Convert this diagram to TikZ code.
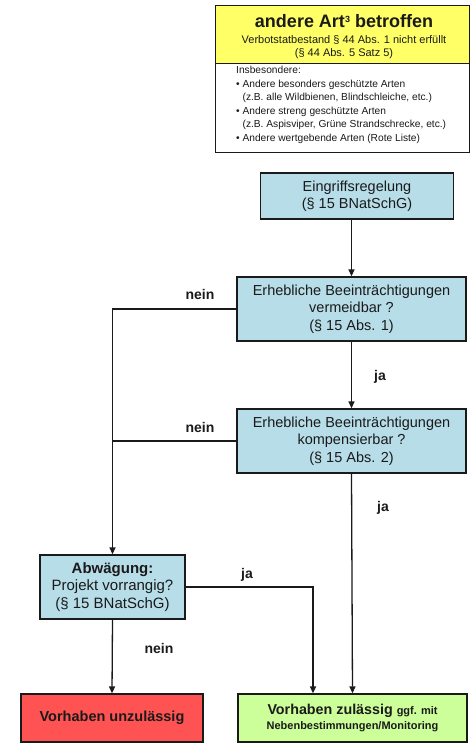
\documentclass[tikz,border=0pt]{standalone}
\usepackage{fontspec}
\setmainfont{Liberation Sans}
\usetikzlibrary{arrows.meta}
\definecolor{boxblue}{HTML}{B7DDE8}
\definecolor{boxyellow}{HTML}{FFFF66}
\definecolor{boxred}{HTML}{FF5252}
\definecolor{boxgreen}{HTML}{CCFF99}
\definecolor{ink}{HTML}{1A1A1A}
\tikzset{
  box/.style={draw=ink, line width=1.3pt, inner sep=0pt, align=center, text=ink},
  bluebox/.style={box, fill=boxblue, font=\fontsize{14.5}{17.5}\selectfont},
  conn/.style={draw=ink, line width=1.3pt},
  arr/.style={conn, -{Triangle[length=7pt,width=6pt]}},
  lbl/.style={font=\fontsize{14}{16}\selectfont\bfseries, text=ink, inner sep=0pt}
}
\begin{document}
\begin{tikzpicture}[x=1pt,y=-1pt]
\useasboundingbox (0,0) rectangle (473,743);
% top box
\node[box, fill=boxyellow, minimum width=254pt, minimum height=58pt, anchor=north west] (topy) at (215,5) {};
\node[inner sep=0pt, text=ink, font=\fontsize{18}{20}\selectfont\bfseries] (title) at (344,21) {andere Art\raisebox{5pt}{\fontsize{9}{9}\selectfont 3} betroffen};
\node[inner sep=0pt, text=ink, align=center, font=\fontsize{11}{13.5}\selectfont] (sub) at (344,47) {Verbotstatbestand § 44 Abs. 1 nicht erfüllt\\(§ 44 Abs. 5 Satz 5)};
\node[box, fill=white, minimum width=254pt, minimum height=89pt, anchor=north west] (topw) at (215,63) {};
\node[inner sep=0pt, text=ink, align=left, anchor=north west, font=\fontsize{10.2}{13.6}\selectfont] (list) at (236,66) {Insbesondere:\\
• Andere besonders geschützte Arten\\
\phantom{• }(z.B. alle Wildbienen, Blindschleiche, etc.)\\
• Andere streng geschützte Arten\\
\phantom{• }(z.B. Aspisviper, Grüne Strandschrecke, etc.)\\
• Andere wertgebende Arten (Rote Liste)};
% flow boxes
\node[bluebox, minimum width=193pt, minimum height=46pt] (eing) at (357,196) {Eingriffsregelung\\(§ 15 BNatSchG)};
\node[bluebox, minimum width=229pt, minimum height=64pt] (verm) at (351.5,309) {Erhebliche Beeinträchtigungen\\vermeidbar ?\\(§ 15 Abs. 1)};
\node[bluebox, minimum width=229pt, minimum height=64pt] (komp) at (351.5,441) {Erhebliche Beeinträchtigungen\\kompensierbar ?\\(§ 15 Abs. 2)};
\node[bluebox, minimum width=145pt, minimum height=64pt, font=\fontsize{15}{17.5}\selectfont] (abw) at (112.5,587) {\textbf{Abwägung:}\\Projekt vorrangig?\\(§ 15 BNatSchG)};
\node[box, fill=boxred, minimum width=182pt, minimum height=48pt, font=\fontsize{14.5}{17}\selectfont\bfseries] (unz) at (112,718) {Vorhaben unzulässig};
\node[box, fill=boxgreen, minimum width=229pt, minimum height=48pt, font=\fontsize{14.3}{16}\selectfont\bfseries] (zul) at (352.5,718) {Vorhaben zulässig {\fontsize{11}{16}\selectfont ggf. mit}\\[-1pt]{\fontsize{11}{14}\selectfont Nebenbestimmungen/Monitoring}};
% connectors
\draw[arr] (verm.north |- eing.south) -- (verm.north);
\draw[arr] (verm.west) -- (verm.west -| abw.north) -- (abw.north);
\draw[conn] (komp.west) -- (komp.west -| abw.north);
\draw[arr] (verm.south) -- (komp.north);
\draw[arr] (komp.south) -- (zul.north);
\draw[arr] (abw.east) -| ([xshift=-39.5pt]zul.north);
\draw[arr] (abw.south) -- (unz.north);
% labels
\node[lbl] (n1) at (200,294) {nein};
\node[lbl] (n2) at (200,427) {nein};
\node[lbl] (j1) at (380,377) {ja};
\node[lbl] (j2) at (383,508) {ja};
\node[lbl] (j3) at (247,575) {ja};
\node[lbl] (n3) at (159,648) {nein};
\end{tikzpicture}
\end{document}
